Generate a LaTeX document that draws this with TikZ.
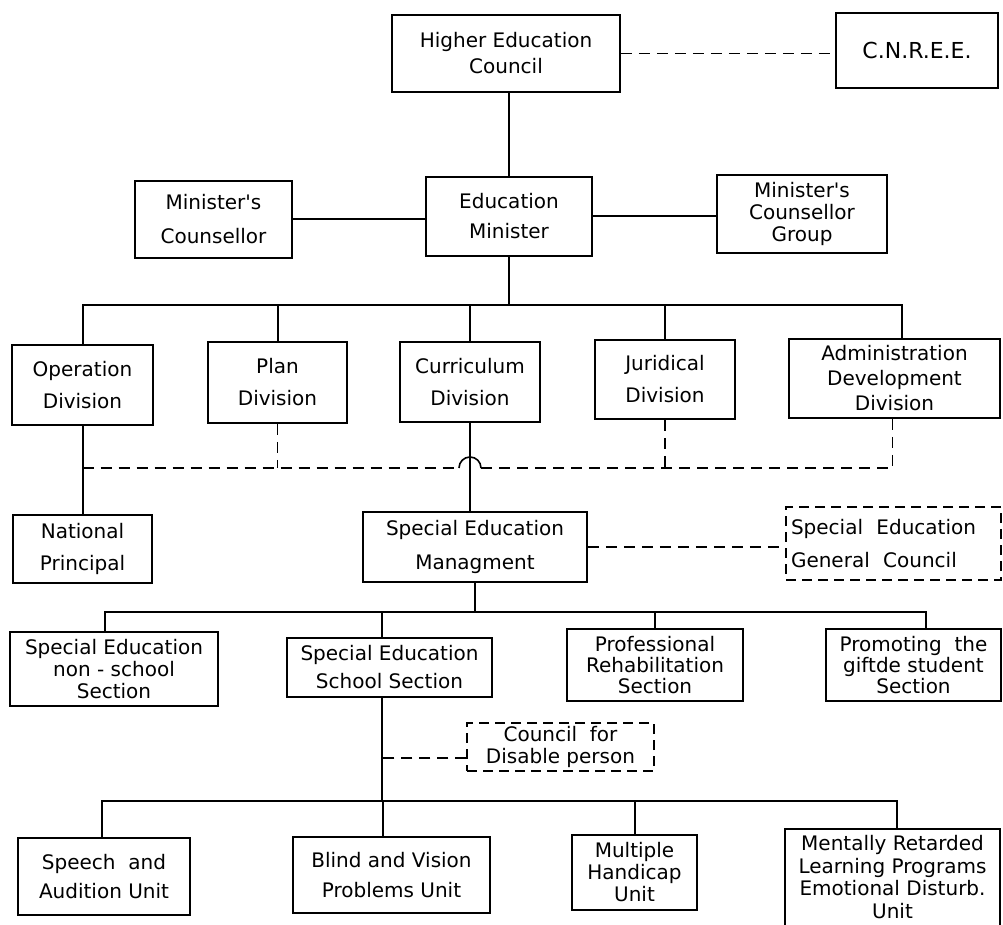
\documentclass[tikz,border=0pt]{standalone}
\usepackage{fontspec}
\setmainfont{DejaVu Sans}
\newcommand\fsz[1]{\fontsize{20}{#1}\selectfont}
\newcommand\apo{\textquotesingle}
\tikzset{
  boxst/.style={draw, line width=1.8pt, inner sep=0pt, align=center},
  dbox/.style={draw, line width=1.4pt, dash pattern=on 10pt off 6pt, inner sep=0pt},
  conn/.style={line width=2pt},
  dconn/.style={line width=1.6pt, dash pattern=on 11pt off 7pt},
}
\begin{document}
\begin{tikzpicture}[x=1pt,y=-1pt]
\useasboundingbox (0,0) rectangle (1003,925);
\clip (0,0) rectangle (1003,925);
\fill[white] (0,0) rectangle (1003,925);

% top levels
\node[boxst, font=\fsz{26}, minimum width=228pt, minimum height=77pt] (hec) at (506,53.5) {Higher Education\\Council};
\node[boxst, font=\fontsize{22}{26}\selectfont, minimum width=162pt, minimum height=75pt] (cnree) at (917,50.5) {C.N.R.E.E.};
\node[boxst, font=\fsz{30}, minimum width=166pt, minimum height=79pt] (edmin) at (509,216.5) {Education\\Minister};
\node[boxst, font=\fsz{34}, minimum width=157pt, minimum height=77pt] (mc) at (213.5,219.5) {Minister\apo s\\Counsellor};
\node[boxst, font=\fsz{22}, minimum width=170pt, minimum height=78pt] (mcg) at (802,214) {Minister\apo s\\Counsellor\\Group};

% divisions
\node[boxst, font=\fsz{32}, minimum width=141pt, minimum height=80pt] (opdiv) at (82.5,385) {Operation\\Division};
\node[boxst, font=\fsz{32}, minimum width=139pt, minimum height=81pt] (plan) at (277.5,382.5) {Plan\\Division};
\node[boxst, font=\fsz{32}, minimum width=140pt, minimum height=80pt] (curr) at (470,382) {Curriculum\\Division};
\node[boxst, font=\fsz{32}, minimum width=140pt, minimum height=79pt] (jur) at (665,379.5) {Juridical\\Division};
\node[boxst, font=\fsz{25}, minimum width=211pt, minimum height=79pt] (admin) at (894.5,378.5) {Administration\\Development\\Division};

% middle
\node[boxst, font=\fsz{32}, minimum width=139pt, minimum height=68pt] (natp) at (82.5,549) {National\\Principal};
\node[boxst, font=\fsz{34}, minimum width=224pt, minimum height=70pt] (sem) at (475,547) {Special Education\\Managment};
\node[dbox, align=left, font=\fsz{33}, minimum width=215pt, minimum height=73pt, text width=205pt] (segc) at (893.5,543.5) {Special\ \ Education\\General\ \ Council};

% sections
\node[boxst, font=\fsz{22}, minimum width=208pt, minimum height=74pt] (senon) at (114,669) {Special Education\\non - school\\Section};
\node[boxst, font=\fsz{28}, minimum width=205pt, minimum height=59pt] (sess) at (389.5,667.5) {Special Education\\School Section};
\node[boxst, font=\fsz{21}, minimum width=176pt, minimum height=72pt] (prof) at (655,665) {Professional\\Rehabilitation\\Section};
\node[boxst, font=\fsz{21}, minimum width=175pt, minimum height=72pt] (prom) at (913.5,665) {Promoting\ \ the\\giftde student\\Section};
\node[dbox, align=center, font=\fsz{22}, minimum width=187pt, minimum height=48pt] (cdp) at (560.5,747) {Council\ \ for\\Disable person};

% units
\node[boxst, font=\fsz{29}, minimum width=172pt, minimum height=77pt] (speech) at (104,876.5) {Speech\ \ and\\Audition Unit};
\node[boxst, font=\fsz{30}, minimum width=197pt, minimum height=76pt] (blind) at (391.5,875) {Blind and Vision\\Problems Unit};
\node[boxst, font=\fsz{22}, minimum width=125pt, minimum height=75pt] (mult) at (634.5,872.5) {Multiple\\Handicap\\Unit};
\node[boxst, minimum width=215pt, minimum height=111pt] (ment) at (892.5,884.5) {};
\node[align=center, font=\fsz{22.5}, inner sep=0pt] (menttxt) at (892.5,877) {Mentally Retarded\\Learning Programs\\Emotional Disturb.\\Unit};

% connectors: top
\draw[conn] (edmin.north) -- (edmin.north |- hec.south);
\draw[dconn] (hec.east) -- (hec.east -| cnree.west);
\draw[conn] (mc.east) -- (mc.east -| edmin.west);
\draw[conn] (edmin.east) -- (edmin.east -| mcg.west);

% bus 1
\coordinate (b1) at (509,305);
\draw[conn] (edmin.south) -- (b1);
\draw[conn] (opdiv.north) |- (b1);
\draw[conn] (b1) -| ([xshift=7pt]admin.north);
\draw[conn] (plan.north) -- (plan.north |- b1);
\draw[conn] (curr.north) -- (curr.north |- b1);
\draw[conn] (jur.north) -- (jur.north |- b1);

% dashed link with hump
\coordinate (d0) at (82.5,468);
\draw[dconn] (d0) -- ([xshift=-11pt]curr.south |- d0);
\draw[conn, line width=1.6pt] ([xshift=-11pt]curr.south |- d0) arc[start angle=180, end angle=360, radius=11];
\draw[dconn] ([xshift=11pt]curr.south |- d0) -- ([xshift=-2pt]admin.south |- d0);
\draw[dconn] (plan.south) -- (plan.south |- d0);
\draw[dconn] (jur.south) -- (jur.south |- d0);
\draw[dconn] ([xshift=-2pt]admin.south) -- ([xshift=-2pt]admin.south |- d0);

\draw[conn] (opdiv.south) -- (natp.north);
\draw[conn] (curr.south) -- (curr.south |- sem.north);
\draw[dconn] (sem.east) -- (sem.east -| segc.west);

% bus 2
\coordinate (b2) at (475,612);
\draw[conn] (sem.south) -- (b2);
\draw[conn] ([xshift=-9pt]senon.north) |- (b2) -| ([xshift=12.5pt]prom.north);
\draw[conn] ([xshift=-7.5pt]sess.north) -- ([xshift=-7.5pt]sess.north |- b2);
\draw[conn] (prof.north) -- (prof.north |- b2);

% bus 3
\coordinate (b3) at (382,801);
\draw[conn] ([xshift=-7.5pt]sess.south) -- (b3);
\draw[conn] ([xshift=-2pt]speech.north) |- (b3) -| ([xshift=4.5pt]ment.north);
\draw[conn] ([xshift=-8.5pt]blind.north) -- ([xshift=-8.5pt]blind.north |- b3);
\draw[conn] (mult.north) -- (mult.north |- b3);
\coordinate (cin) at ([yshift=-11pt]cdp.west);
\draw[dconn] (cin) -- (cin -| b3);
\end{tikzpicture}
\end{document}
